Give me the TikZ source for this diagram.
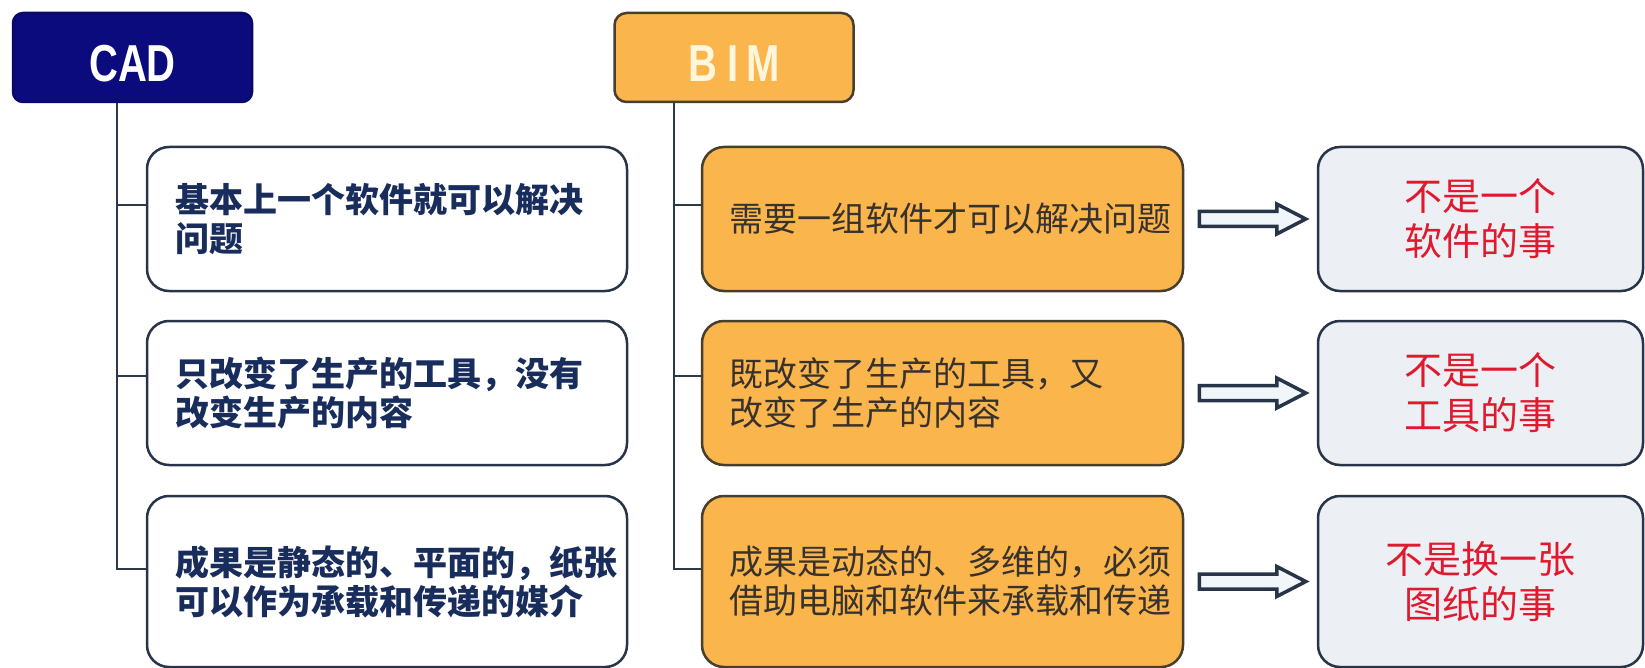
\documentclass[tikz,border=0pt]{standalone}
\usepackage{fontspec}
\setmainfont{Liberation Sans}
\newfontfamily\cjk{Noto Sans CJK SC}
\usetikzlibrary{calc}
\definecolor{navyC}{RGB}{11,11,125}
\definecolor{orangeC}{RGB}{250,181,76}
\definecolor{brownC}{RGB}{72,62,46}
\definecolor{edgeC}{RGB}{40,52,72}
\definecolor{lineC}{RGB}{45,56,72}
\definecolor{grayC}{RGB}{236,239,243}
\definecolor{redC}{RGB}{224,26,46}
\definecolor{navyT}{RGB}{25,45,92}
\definecolor{midT}{RGB}{55,50,45}
\definecolor{creamC}{RGB}{255,246,220}
\definecolor{arrowF}{RGB}{240,246,250}
\tikzset{
  conn/.style={draw=lineC, line width=2.5pt},
  headbox/.style={line width=2.5pt, minimum width=239pt, minimum height=89pt,
    text height=49pt, text depth=0pt,
    font=\fontsize{52}{60}\selectfont\bfseries},
  cadbox/.style={headbox, draw=navyC!85!black, fill=navyC, rounded corners=10pt, text=white},
  bimbox/.style={headbox, draw=brownC, fill=orangeC, rounded corners=12pt, text=creamC},
  lbox/.style={draw=edgeC, line width=2.5pt, fill=white, rounded corners=22pt,
    minimum width=480pt, text width=424pt, align=left, inner xsep=0pt, text=navyT,
    font=\cjk\bfseries\fontsize{34}{39}\selectfont},
  mbox/.style={draw=brownC, line width=2.5pt, fill=orangeC, rounded corners=22pt,
    minimum width=481pt, text width=427pt, align=left, inner xsep=0pt, text=midT,
    font=\cjk\fontsize{34}{39}\selectfont},
  rbox/.style={draw=edgeC, line width=2.5pt, fill=grayC, rounded corners=22pt,
    minimum width=325pt, align=center, text=redC,
    font=\cjk\fontsize{38}{45}\selectfont},
  harrow/.style={draw=edgeC, line width=3.5pt, fill=arrowF, line join=miter},
}
\begin{document}
\begin{tikzpicture}[x=1pt,y=-1pt]
\useasboundingbox (0,0) rectangle (1645,668);
\fill[white] (0,0) rectangle (1645,668);

\node[cadbox] (cad) at (132.5,57.5) {\scalebox{0.77}[1]{CAD}};
\node[bimbox] (bim) at (734,57.5) {\scalebox{0.77}[1]{B\hspace{14pt}I\hspace{10pt}M}};

% left column
\node[lbox, minimum height=144pt] (l1) at (387,219) {基本上一个软件就可以解决\\问题};
\node[lbox, minimum height=144pt] (l2) at (387,393) {只改变了生产的工具，没有\\改变生产的内容};
\node[lbox, minimum height=171pt] (l3) at (387,581.5) {成果是静态的、平面的，纸张\\可以作为承载和传递的媒介};

% middle column
\node[mbox, minimum height=144pt] (m1) at (942.5,219) {需要一组软件才可以解决问题};
\node[mbox, minimum height=144pt] (m2) at (942.5,393) {既改变了生产的工具，又\\改变了生产的内容};
\node[mbox, minimum height=171pt] (m3) at (942.5,581.5) {成果是动态的、多维的，必须\\借助电脑和软件来承载和传递};

% right column
\node[rbox, minimum height=144pt] (r1) at (1480.5,219) {不是一个\\软件的事};
\node[rbox, minimum height=144pt] (r2) at (1480.5,393) {不是一个\\工具的事};
\node[rbox, minimum height=171pt] (r3) at (1480.5,581.5) {不是换一张\\图纸的事};

% tree connectors
\draw[conn] ([xshift=-15.5pt]cad.south) |- ([yshift=12.5pt]l3.west);
\draw[conn] ([yshift=14pt]l1.west) -| ([xshift=-15.5pt]cad.south);
\draw[conn] ([yshift=17pt]l2.west) -| ([xshift=-15.5pt]cad.south);

\draw[conn] ([xshift=-60pt]bim.south) |- ([yshift=12.5pt]m3.west);
\draw[conn] ([yshift=14pt]m1.west) -| ([xshift=-60pt]bim.south);
\draw[conn] ([yshift=17pt]m2.west) -| ([xshift=-60pt]bim.south);

% hollow arrows
\foreach \i in {1,2,3}{
  \draw[harrow] ($(m\i.east)+(15,-7.5)$) -- ($(r\i.west)+(-40,-7.5)$)
    -- ($(r\i.west)+(-40,-15)$) -- ($(r\i.west)+(-11,0)$)
    -- ($(r\i.west)+(-40,15)$) -- ($(r\i.west)+(-40,7.5)$)
    -- ($(m\i.east)+(15,7.5)$) -- cycle;
}
\end{tikzpicture}
\end{document}
